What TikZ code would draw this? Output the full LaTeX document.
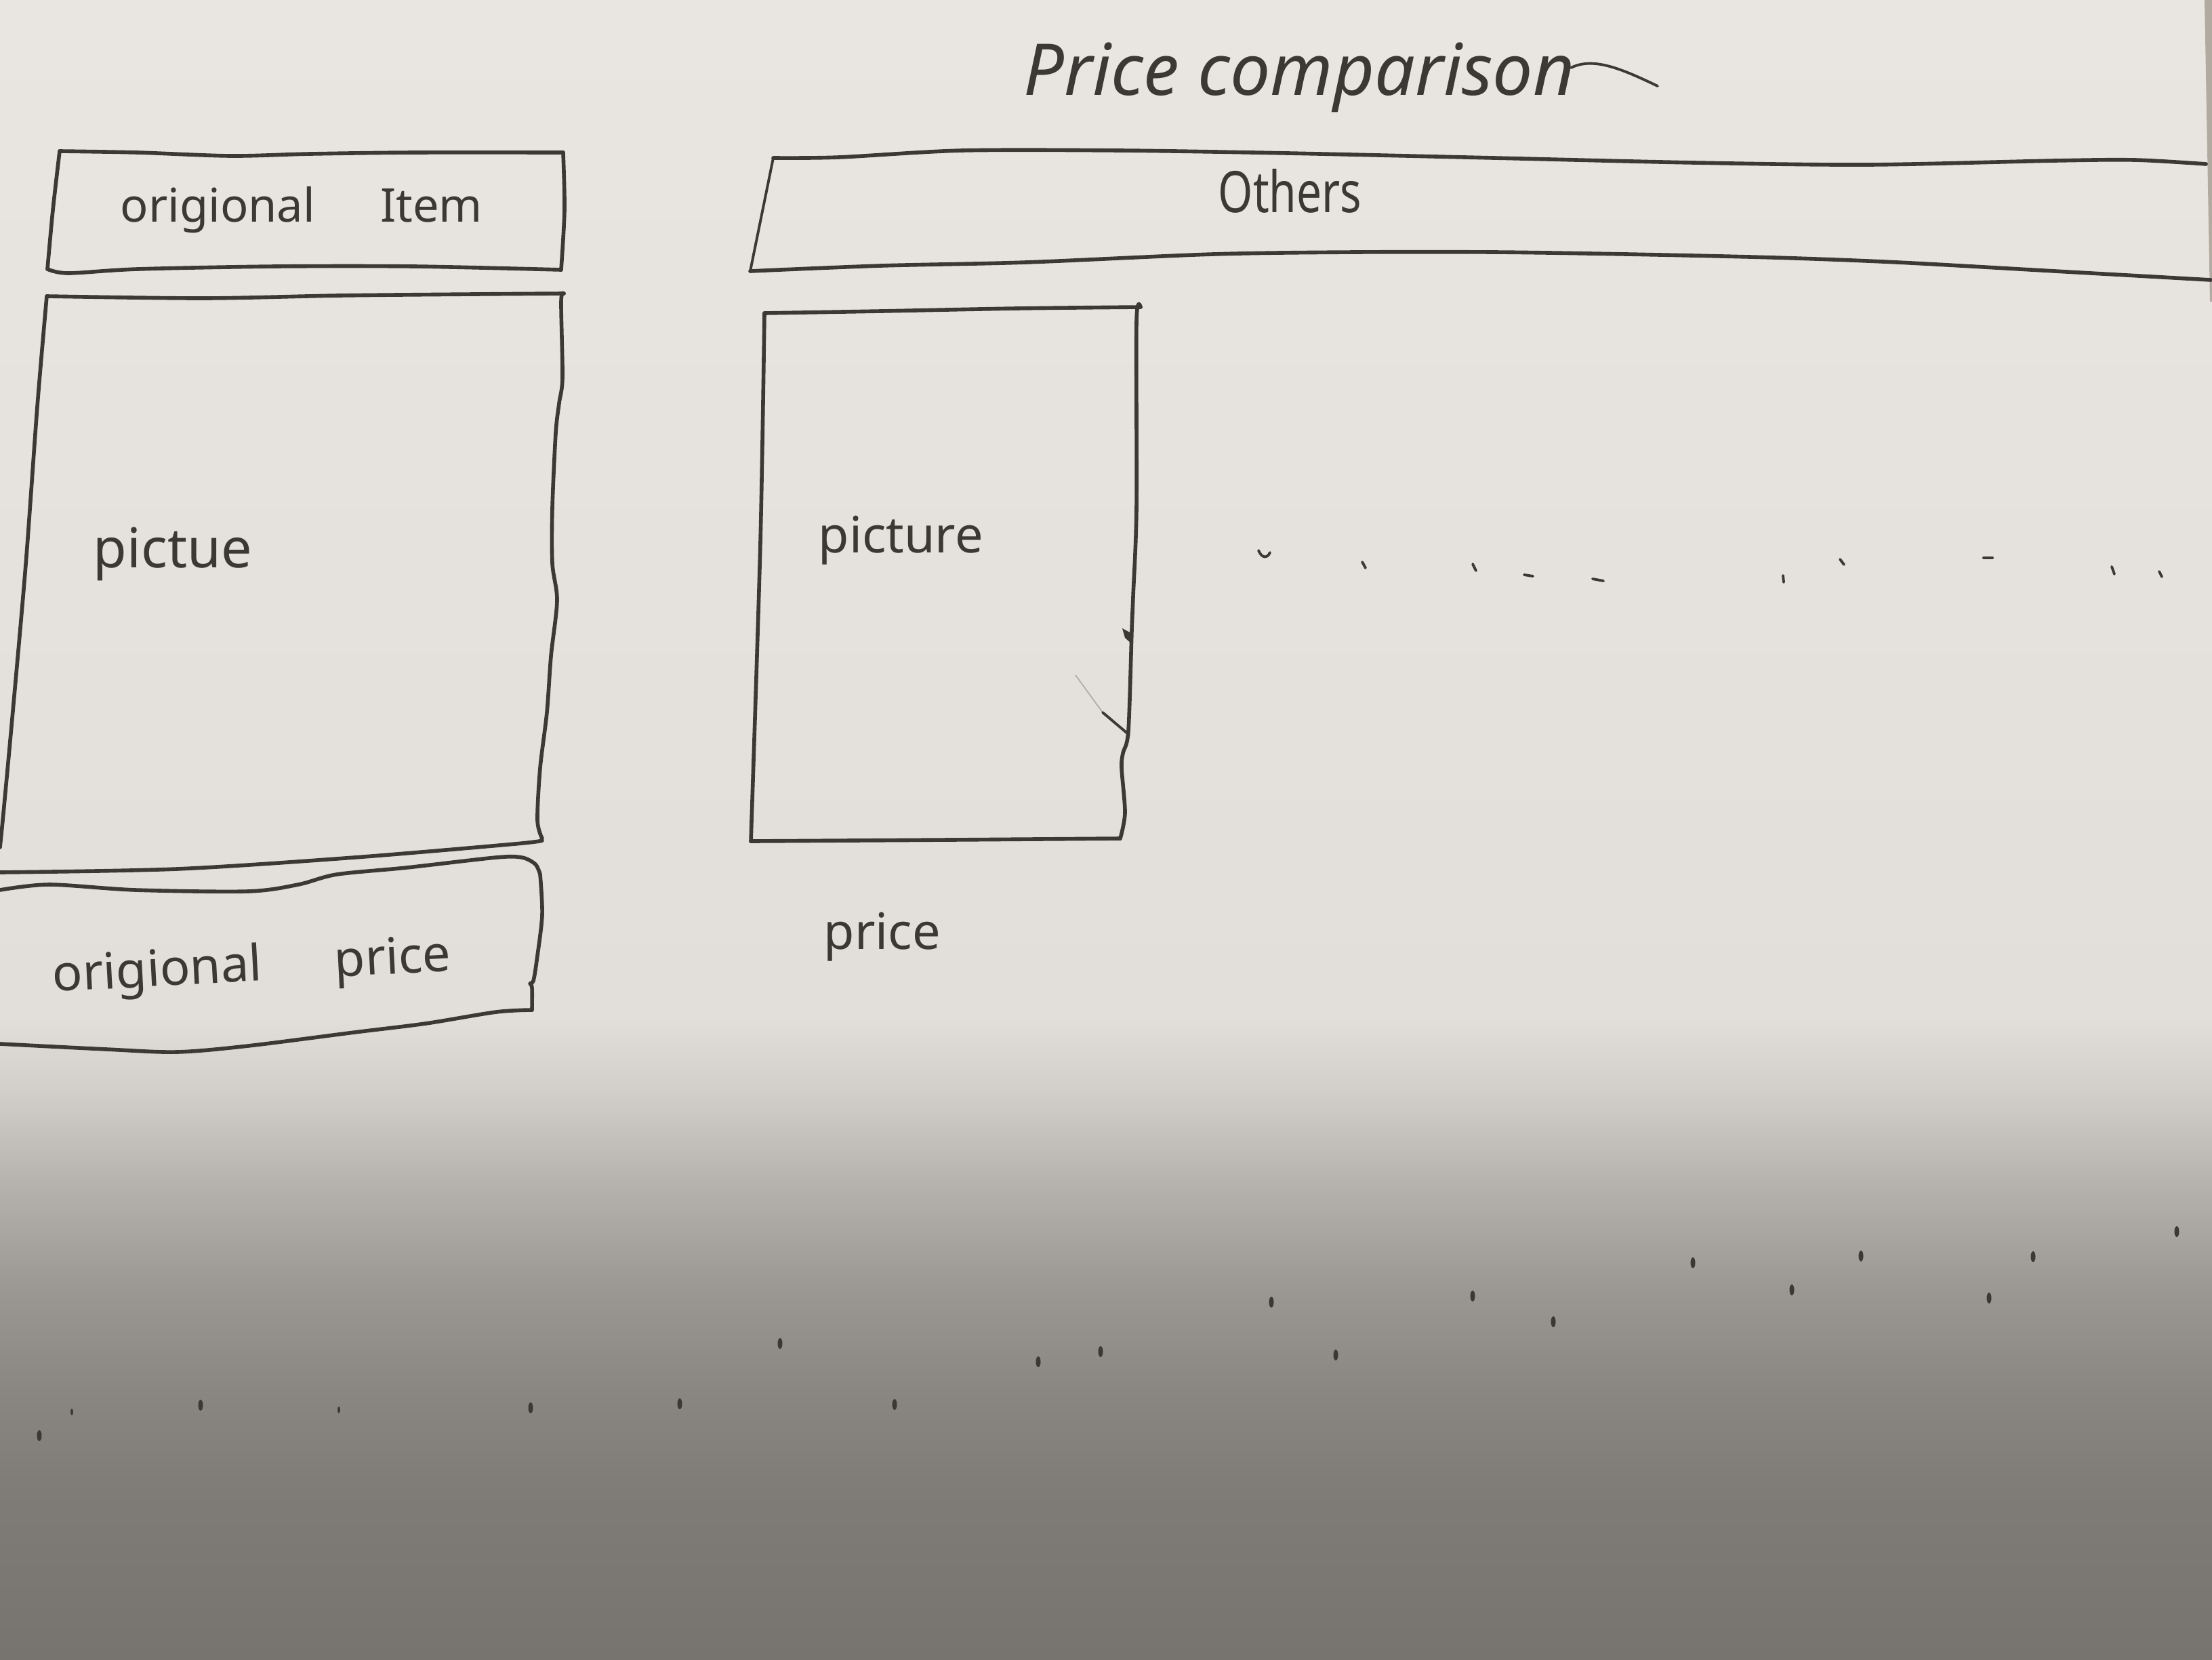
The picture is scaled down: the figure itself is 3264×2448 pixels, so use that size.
\documentclass[tikz,border=0pt]{standalone}
\usepackage{fontspec}
\setmainfont{Noto Sans}
\definecolor{inkc}{HTML}{3B3835}
\definecolor{edgec}{HTML}{B0AAA0}
\definecolor{pA}{HTML}{77736F}
\definecolor{pB}{HTML}{7F7B76}
\definecolor{pC}{HTML}{8A8681}
\definecolor{pD}{HTML}{9B9792}
\definecolor{pE}{HTML}{B5B1AC}
\definecolor{pF}{HTML}{D0CCC7}
\definecolor{pG}{HTML}{E2DFDA}
\definecolor{pH}{HTML}{E9E6E1}
% paper lit from the top, shadowed towards the bottom
% (TikZ maps the band 25bp..75bp of a 100bp shading onto the path)
\pgfdeclareverticalshading{paper}{100bp}{%
  color(0bp)=(pA); color(25bp)=(pA); color(30.07bp)=(pB); color(33.13bp)=(pC);
  color(36.19bp)=(pD); color(39.26bp)=(pE); color(41.91bp)=(pF);
  color(44.36bp)=(pG); color(75bp)=(pH); color(100bp)=(pH)}
\tikzset{
  ink/.style={draw=inkc, line width=1.6pt, line join=round, line cap=round},
  thinink/.style={draw=inkc, line width=1.1pt, line join=round, line cap=round},
  hand/.style={text=inkc, inner sep=0pt, anchor=base west},
  speck/.style={fill=inkc},
  faint/.style={draw=inkc, draw opacity=0.3, line width=0.5pt},
}
\begin{document}
\begin{tikzpicture}[x=0.01cm, y=-0.01cm]
\useasboundingbox (0,0) rectangle (3264,2448);
\shade[shading=paper] (0,0) rectangle (3264,2448);
\fill[edgec] (3253,0) -- (3264,0) -- (3264,445) -- (3261,445) -- cycle;

% ---- heading ----
\node[hand, font={\fontsize{30}{35}\selectfont\itshape}] (title) at (1510,140) {Price comparison};
\coordinate (tailA) at (2318,100);
\coordinate (tailB) at (2446,127);
\draw[thinink] (tailA) .. controls (2350,84) and (2390,100) .. (tailB);

% ---- original item header ----
\draw[ink] plot[smooth, tension=0.5] coordinates {(88,223) (203,225) (341,230) (458,227) (611,225) (831,225)};
\draw[ink] plot[smooth, tension=0.5] coordinates {(831,225) (833,310) (828,398)};
\draw[ink] plot[smooth, tension=0.5] coordinates {(828,398) (611,393) (407,393) (203,397) (101,403) (70,397)};
\draw[ink] plot[smooth, tension=0.5] coordinates {(70,397) (78,310) (88,223)};
\node[hand, font={\fontsize{19.5}{24}\selectfont}] (itemlbl) at (177,327) {origional\hspace{1.4em}Item};

% ---- original picture box ----
\draw[ink] plot[smooth, tension=0.5] coordinates {(69,437) (300,440) (500,436) (700,434) (832,433)};
\draw[ink] plot[smooth, tension=0.5] coordinates {(832,433) (828,445) (830,557) (825,595) (820,639) (815,749) (815,831) (822,886) (813,968) (807,1051) (797,1133) (793,1210) (800,1237)};
\draw[ink] plot[smooth, tension=0.5] coordinates {(800,1240) (760,1245) (523,1265) (261,1282) (0,1287)};
\draw[ink] plot[smooth, tension=0.5] coordinates {(69,437) (55,600) (38,833) (18,1060) (5,1200) (0,1250)};
\node[hand, font={\fontsize{23}{28}\selectfont}] (piclbl) at (137,837) {pictue};

% ---- original price box ----
\draw[ink] plot[smooth, tension=0.5] coordinates {(0,1313) (73,1305) (200,1313) (366,1315) (440,1305) (497,1290) (600,1280) (732,1265) (770,1265) (790,1275) (797,1290)};
\draw[ink] plot[smooth, tension=0.5] coordinates {(797,1290) (800,1350) (792,1417) (787,1447) (782,1451) (785,1457) (785,1490)};
\draw[ink] plot[smooth, tension=0.5] coordinates {(785,1490) (732,1493) (628,1510) (523,1523) (366,1543) (261,1552) (157,1548) (0,1540)};
\node[hand, font={\fontsize{21}{26}\selectfont}, rotate=3] (pricelbl) at (78,1463) {origional\hspace{1.45em}price};

% ---- others header ----
\draw[ink] plot[smooth, tension=0.5] coordinates {(1141,233) (1238,232) (1420,222) (1652,222) (1900,226) (2204,233) (2500,240) (2756,243) (3032,237) (3150,236) (3255,242)};
\draw[thinink] (1141,233) -- (1107,400);
\draw[ink] plot[smooth, tension=0.5] coordinates {(1107,400) (1300,392) (1514,387) (1790,375) (2000,372) (2204,372) (2400,375) (2618,380) (2800,387) (3032,400) (3262,413)};
\node[hand, font={\fontsize{24}{28}\selectfont}] (otherslbl) at (1797,313) {\scalebox{0.78}[1]{Others}};

% ---- other item picture box ----
\draw[ink] plot[smooth, tension=0.5] coordinates {(1128,462) (1300,459) (1500,455) (1683,453)};
\draw[ink] plot[smooth, tension=0.5] coordinates {(1683,453) (1677,475) (1677,749) (1672,880) (1670,930) (1665,1078) (1657,1111) (1655,1133) (1660,1199) (1653,1237)};
\draw[ink] plot[smooth, tension=0.5] coordinates {(1653,1237) (1400,1239) (1108,1241)};
\draw[ink] plot[smooth, tension=0.5] coordinates {(1128,462) (1122,800) (1108,1241)};
\fill[inkc] (1656,927) -- (1671,935) -- (1669,949) -- (1660,941) -- cycle;
\draw[faint] (1587,996) -- (1627,1051);
\draw[thinink] (1627,1051) -- (1666,1084);
\node[hand, font={\fontsize{21}{26}\selectfont}] (pic2lbl) at (1207,815) {picture};
\node[hand, font={\fontsize{21}{26}\selectfont}] (price2lbl) at (1215,1400) {price};

% ---- trailing marks after the other item ----
\draw[thinink] (1857,812) .. controls (1862,824) and (1870,824) .. (1874,815);
\draw[thinink] (2010,829) -- (2015,838);
\draw[thinink] (2173,832) -- (2178,842);
\draw[thinink] (2249,848) -- (2262,850);
\draw[thinink] (2350,854) -- (2366,857);
\draw[thinink] (2631,849) -- (2632,859);
\draw[thinink] (2715,825) -- (2721,833);
\draw[thinink] (2927,823) -- (2940,823);
\draw[thinink] (3116,836) -- (3120,847);
\draw[thinink] (3186,843) -- (3190,851);

% ---- dots scattered on the lower half ----
\foreach \px/\py in {3212/1817, 2498/1863, 2746/1853, 3000/1854, 2644/1903,
    2935/1915, 2173/1912, 1876/1921, 2292/1950, 1151/1982, 1624/1994,
    1532/2009, 1971/1999, 296/2073, 783/2077, 1003/2071, 1320/2072, 58/2118}
  \fill[speck] (\px,\py) ellipse [x radius=3.5, y radius=8];
\foreach \px/\py in {500/2080, 106/2083}
  \fill[speck] (\px,\py) ellipse [x radius=2, y radius=5];
\end{tikzpicture}
\end{document}
